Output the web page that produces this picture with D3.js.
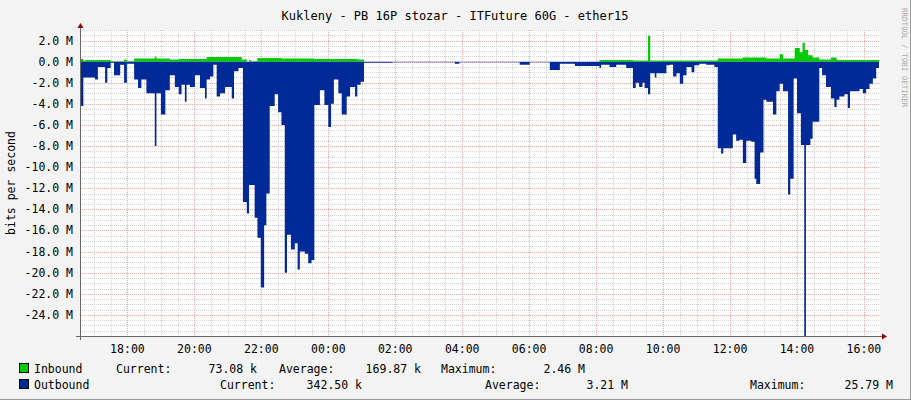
<!DOCTYPE html><html><head><meta charset="utf-8">
<script src="https://cdn.jsdelivr.net/npm/d3@7"></script>
<style>body{margin:0;background:#f3f3f3}text{font-family:"DejaVu Sans Mono",monospace}</style></head><body>
<svg id="c" width="911" height="400"></svg>
<script>
// minutes since 16:35 ; value in M (step segments)
const outT=[0,6,27,32,45,49,55,61,72,79,84,97,104,110,119,134,137,145,153,161,170,177,182,188,191,197,206,215,224,227,233,239,245,251,260,266,272,276,284,292,299,303,306,313,318,324,330,334,340,349,355,361,367,371,378,385,390,394,403,409,415,420,430,438,445,450,455,463,469,478,484,493,497,503,509,560,672,680,788,806,842,860,887,931,934,949,961,979,991,996,1002,1008,1012,1018,1022,1030,1033,1042,1051,1057,1063,1069,1075,1081,1087,1096,1101,1110,1122,1137,1143,1149,1153,1170,1176,1182,1188,1194,1203,1209,1212,1219,1225,1230,1242,1248,1254,1260,1269,1273,1279,1285,1292,1298,1301,1309,1313,1319,1325,1330,1337,1346,1352,1356,1361,1370,1376,1380,1397,1403,1409,1415,1421,1427,1432];
const outV=[4.2,1.5,1.7,0.5,2.0,0.6,0.1,1.3,0.3,2.0,0.2,1.7,2.5,1.7,3.0,8.0,3.0,5.0,2.7,1.3,2.4,3.1,2.2,3.8,2.2,2.4,1.3,2.5,3.5,1.7,1.4,0.3,3.3,3.0,2.4,2.4,3.5,0.9,0.6,13.3,14.4,11.7,11.7,14.8,16.7,21.4,15.5,12.5,4.2,3.1,4.8,6.0,20.0,16.4,17.8,17.2,19.7,18.0,18.2,19.1,18.8,4.1,2.7,4.1,6.2,4.0,1.7,3.0,5.0,3.3,2.4,3.3,2.2,1.9,0.1,0.05,0.2,0.05,0.3,0.05,0.8,0.2,0.4,0.6,0.3,0.5,0.3,0.6,2.5,2.0,2.4,2.0,2.5,3.1,1.1,1.5,1.1,1.1,0.35,0.3,1.4,1.1,2.1,1.3,0.5,1.0,0.35,0.2,0.3,0.5,8.2,8.7,8.2,6.9,7.5,7.4,9.6,7.5,7.6,11.1,11.6,8.6,3.6,3.8,5.0,2.8,2.1,2.8,12.6,11.1,1.6,4.9,7.9,26.0,7.9,7.3,5.7,5.7,0.6,1.3,2.4,3.5,4.3,3.6,3.3,3.1,4.4,2.8,2.6,3.0,2.6,2.1,1.6,0.6,0.6];
const inT=[0,6,11,16,55,79,84,97,119,134,137,161,177,224,227,290,299,303,306,318,361,420,497,509,931,991,1018,1022,1143,1188,1230,1254,1260,1281,1290,1295,1299,1305,1313,1325,1346,1356,1432];
const inV=[0.25,0.1,0.15,0.15,0.05,0.2,0.05,0.3,0.3,0.5,0.3,0.2,0.25,0.25,0.45,0.2,0,0.15,0.05,0.35,0.3,0.25,0.2,0,0.15,0.1,2.46,0.1,0.3,0.4,0.3,0.7,0.3,1.3,0.9,1.8,1.1,0.6,0.4,0.2,0.4,0.15,0.15];
const yTicks=[2,0,-2,-4,-6,-8,-10,-12,-14,-16,-18,-20,-22,-24];
const xLabels=["18:00","20:00","22:00","00:00","02:00","04:00","06:00","08:00","10:00","12:00","14:00","16:00"];
const firstLabelMin=85; // 18:00 relative to 16:35
const legIn=["Inbound","Current:","73.08 k","Average:","169.87 k","Maximum:","2.46 M"];
const legOut=["Outbound","Current:","342.50 k","Average:","3.21 M","Maximum:","25.79 M"];

const svg=d3.select("#c");
const L=80,R=880,T=30,B=336;
const x=d3.scaleLinear().domain([0,1432]).range([L,879]);
const y=d3.scaleLinear().domain([-26,3]).range([B,T]);
svg.append("rect").attr("x",L).attr("y",T).attr("width",R-L).attr("height",B-T).attr("fill","#fff");
const g=svg.append("g");
for(let m=-25.5;m<=3;m+=0.5){ if(Math.abs(m%2)<1e-9) continue;
 g.append("line").attr("x1",L).attr("x2",R).attr("y1",Math.round(y(m))+0.5).attr("y2",Math.round(y(m))+0.5).attr("stroke","#d4d4d4").attr("stroke-dasharray","1,1");}
for(let t=firstLabelMin-60;t<=1432;t+=30){ if(((t-firstLabelMin)%120+120)%120===0) continue;
 g.append("line").attr("y1",T).attr("y2",B).attr("x1",Math.round(x(t))+0.5).attr("x2",Math.round(x(t))+0.5).attr("stroke","#d4d4d4").attr("stroke-dasharray","1,1");}
yTicks.forEach(v=>g.append("line").attr("x1",L).attr("x2",R).attr("y1",Math.round(y(v))+0.5).attr("y2",Math.round(y(v))+0.5).attr("stroke","#eeaaaa").attr("stroke-dasharray","1,1"));
xLabels.forEach((s,i)=>{const t=firstLabelMin+i*120;g.append("line").attr("y1",T).attr("y2",B).attr("x1",Math.round(x(t))+0.5).attr("x2",Math.round(x(t))+0.5).attr("stroke","#eeaaaa").attr("stroke-dasharray","1,1");});
function pts(T_,V,sign){return T_.map((t,i)=>[t,sign*V[i]]);}
const area=d3.area().x(d=>x(d[0])).y0(y(0)).y1(d=>y(d[1])).curve(d3.curveStepAfter);
svg.append("path").datum(pts(inT,inV,1)).attr("d",area).attr("fill","#00cc00");
svg.append("path").datum(pts(outT,outV,-1)).attr("d",area).attr("fill","#002a97");
const ax=svg.append("g").attr("fill","none");
ax.append("line").attr("x1",L+0.5).attr("x2",L+0.5).attr("y1",T-3).attr("y2",B+4).attr("stroke","#666");
ax.append("line").attr("x1",L-4).attr("x2",R+2).attr("y1",B+0.5).attr("y2",B+0.5).attr("stroke","#666");
svg.append("path").attr("d",`M${L-2.5},${T-2}L${L+3.5},${T-2}L${L+0.5},${T-7}Z`).attr("fill","#900000");
svg.append("path").attr("d",`M${R+2},${B-2.5}L${R+2},${B+3.5}L${R+7},${B+0.5}Z`).attr("fill","#900000");
yTicks.forEach(v=>svg.append("text").attr("x",73).attr("y",y(v)+4).attr("text-anchor","end").attr("font-size",11.5).attr("fill","#000").text(v.toFixed(1)+" M"));
xLabels.forEach((s,i)=>svg.append("text").attr("x",x(firstLabelMin+i*120)).attr("y",353).attr("text-anchor","middle").attr("font-size",11.5).text(s));
svg.append("text").attr("x",455).attr("y",20).attr("text-anchor","middle").attr("font-size",12).text("Kukleny - PB 16P stozar - ITFuture 60G - ether15");
svg.append("text").attr("transform","translate(15,183) rotate(-90)").attr("text-anchor","middle").attr("font-size",11.5).text("bits per second");
svg.append("text").attr("transform","translate(902,8) rotate(90)").attr("font-size",7.5).attr("fill","#aaa").text("RRDTOOL / TOBI OETIKER");
const inX=[34,116,205,279,357,441,538], outX=[34,220,299,485,581,750,828];
const rightAl=[false,false,true,false,true,false,true];
const inEnd=[0,0,257,0,421,0,585], outEnd=[0,0,362,0,628,0,893];
function legend(arr,xs,ends,yy,col){
 svg.append("rect").attr("x",19.5).attr("y",yy-9.5).attr("width",9).attr("height",9).attr("fill",col).attr("stroke","#000");
 arr.forEach((s,i)=>{const t=svg.append("text").attr("y",yy).attr("font-size",11.5).text(s);
  if(rightAl[i]) t.attr("x",ends[i]).attr("text-anchor","end"); else t.attr("x",xs[i]);});
}
legend(legIn,inX,inEnd,373,"#00cc00");
legend(legOut,outX,outEnd,389,"#002a97");
svg.append("line").attr("x1",0).attr("x2",911).attr("y1",399.5).attr("y2",399.5).attr("stroke","#999");
svg.append("line").attr("x1",910.5).attr("x2",910.5).attr("y1",0).attr("y2",400).attr("stroke","#999");
</script></body></html>
